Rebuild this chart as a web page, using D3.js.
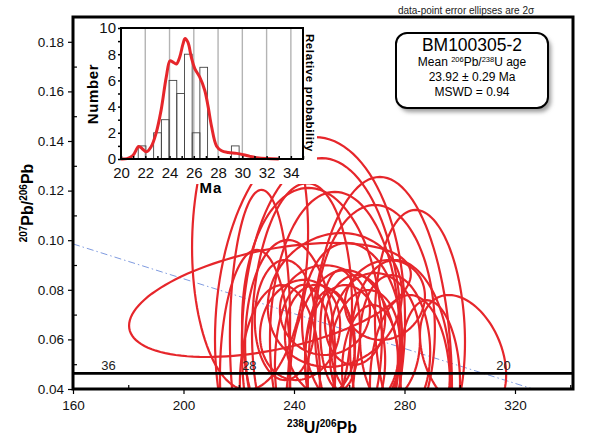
<!DOCTYPE html>
<html>
<head>
<meta charset="utf-8">
<script src="https://cdn.jsdelivr.net/npm/d3@7"></script>
<style>
body { margin: 0; background: #fff; }
svg { display: block; font-family: "Liberation Sans", Arial, sans-serif; }
</style>
</head>
<body>
<svg id="chart" width="602" height="440"></svg>
<script>
// error ellipses (238U/206Pb, 207Pb/206Pb, half widths, correlation)
var ellX = [231.3, 224.1, 271.1, 301.2, 245.8, 250.1, 246.5, 242.9, 254.8, 254.8, 261.0, 269.3, 242.2, 249.4, 258.5, 265.7, 276.6, 236.7, 262.1, 253.0, 238.6, 227.7, 269.3, 278.4, 282.0, 234.9, 258.5, 244.0, 267.5, 285.6, 251.2, 272.9, 225.9, 256.7, 289.2];
var ellY = [0.0759, 0.1001, 0.0396, 0.0537, 0.0638, 0.0577, 0.0638, 0.0678, 0.0598, 0.0759, 0.0638, 0.0598, 0.0638, 0.0598, 0.0517, 0.0557, 0.0577, 0.0678, 0.0678, 0.0517, 0.0557, 0.0638, 0.0638, 0.0517, 0.0416, 0.0436, 0.0436, 0.0477, 0.0497, 0.0638, 0.0718, 0.0759, 0.0477, 0.0638, 0.0456];
var ellSX = [51.0, 21.0, 26.1, 15.6, 34.4, 29.0, 25.3, 18.1, 23.5, 24.3, 18.1, 16.3, 14.5, 12.7, 14.5, 12.7, 12.7, 10.9, 10.9, 9.0, 16.3, 10.9, 21.7, 18.1, 14.5, 14.5, 19.9, 10.9, 10.1, 16.3, 16.3, 14.5, 12.7, 7.2, 10.9];
var ellSY = [0.0230, 0.0605, 0.0859, 0.0242, 0.0778, 0.0754, 0.0573, 0.0552, 0.0597, 0.0270, 0.0351, 0.0270, 0.0202, 0.0222, 0.0302, 0.0242, 0.0282, 0.0242, 0.0181, 0.0282, 0.0444, 0.0565, 0.0504, 0.0403, 0.0363, 0.0383, 0.0444, 0.0343, 0.0242, 0.0484, 0.0181, 0.0161, 0.0484, 0.0242, 0.0302];
var ellRho = [0.45, 0.05, 0, -0.33, 0.05, 0, -0.05, 0.1, 0, 0.1, -0.1, 0, 0.1, -0.1, 0, 0.1, -0.1, 0, 0.05, 0, -0.05, 0.05, 0, -0.1, 0, 0.05, 0, -0.05, 0.1, -0.1, 0, 0.1, 0.05, 0, -0.1];

// concordia (flat at this scale) and labelled ages
var concX = [160, 179, 230, 322, 341];
var concY = [0.0463, 0.0463, 0.0463, 0.0463, 0.0463];
var ageLabels = ["36", "28", "20"];
var ageX = [179, 230, 322];

// regression line
var discX = [160, 341];
var discY = [0.0985, 0.0349];

var xTicks = [160, 200, 240, 280, 320];
var xMinor = [180, 220, 260, 300, 340];
var yTicks = [0.04, 0.06, 0.08, 0.10, 0.12, 0.14, 0.16, 0.18];
var yMinor = [0.05, 0.07, 0.09, 0.11, 0.13, 0.15, 0.17];

// inset histogram of ages (Ma)
var binLeft = [21.42, 22.69, 23.33, 23.96, 24.60, 25.23, 25.87, 26.50, 29.10];
var binCount = [1, 2, 3, 6, 5, 8, 2, 7, 1];
var binWidth = 0.635;
var pdfAge = [20.0, 20.5, 20.97, 21.43, 21.6, 22.1, 22.49, 22.9, 23.31, 23.73, 24.04, 24.28, 24.56, 24.83, 25.1, 25.28, 25.52, 25.8, 26.08, 26.49, 26.9, 27.18, 27.46, 27.87, 28.29, 28.84, 29.53, 30.08, 30.64, 31.19, 32.0, 33.0];
var pdfVal = [0, 0.03, 0.25, 0.94, 0.9, 0.56, 0.95, 2.0, 3.75, 6.25, 7.5, 7.4, 7.25, 7.75, 8.75, 9.2, 8.9, 7.75, 6.9, 6.25, 5.25, 4.0, 2.5, 1.0, 0.63, 0.5, 0.43, 0.33, 0.2, 0.1, 0.03, 0];
var hxTicks = [20, 22, 24, 26, 28, 30, 32, 34];
var hyTicks = [0, 2, 4, 6, 8, 10];

var svg = d3.select("#chart");
var red = "#e6262b";

var x = d3.scaleLinear().domain([160, 341]).range([73, 573]);
var y = d3.scaleLinear().domain([0.04, 0.19]).range([389, 17]);

svg.append("defs").append("clipPath").attr("id", "plotclip")
    .append("rect").attr("x", 73).attr("y", 17).attr("width", 500).attr("height", 372);
var blur = svg.select("defs").append("filter").attr("id", "shadow")
    .attr("x", "-20%").attr("y", "-20%").attr("width", "140%").attr("height", "140%");
blur.append("feGaussianBlur").attr("stdDeviation", 2);

var plot = svg.append("g").attr("clip-path", "url(#plotclip)");

// regression line
plot.append("path")
    .datum(d3.range(discX.length))
    .attr("d", d3.line().x(function (i) { return x(discX[i]); }).y(function (i) { return y(discY[i]); }))
    .attr("fill", "none")
    .attr("stroke", "#7f9be0")
    .attr("stroke-width", 1)
    .attr("stroke-dasharray", "7,3,1.5,3");

// ellipses
var ellLine = d3.line()
    .x(function (p) { return x(p[0]); })
    .y(function (p) { return y(p[1]); })
    .curve(d3.curveLinearClosed);
plot.selectAll("path.ell")
    .data(d3.range(ellX.length))
    .enter().append("path")
    .attr("class", "ell")
    .attr("d", function (i) {
        var pts = d3.range(0, 120).map(function (k) {
            var t = k / 120 * 2 * Math.PI;
            var r = ellRho[i];
            return [ellX[i] + ellSX[i] * Math.cos(t),
                ellY[i] + ellSY[i] * (r * Math.cos(t) + Math.sqrt(1 - r * r) * Math.sin(t))];
        });
        return ellLine(pts);
    })
    .attr("fill", "none")
    .attr("stroke", red)
    .attr("stroke-width", 2.2);

// concordia
plot.append("path")
    .datum(d3.range(concX.length))
    .attr("d", d3.line().x(function (i) { return x(concX[i]); }).y(function (i) { return y(concY[i]); }))
    .attr("fill", "none")
    .attr("stroke", "#000")
    .attr("stroke-width", 2.6);
plot.selectAll("text.age")
    .data(ageLabels)
    .enter().append("text")
    .attr("class", "age")
    .attr("x", function (d, i) { return x(ageX[i]) - 17; })
    .attr("y", y(concY[0]) - 3)
    .attr("text-anchor", "middle")
    .attr("font-size", 13)
    .attr("fill", "#222")
    .text(function (d) { return d; });

// axes
var gy = svg.append("g").attr("transform", "translate(73,0)")
    .call(d3.axisLeft(y).tickValues(yTicks).tickFormat(d3.format(".2f")).tickSize(5).tickPadding(4));
var gyMinor = svg.append("g").attr("transform", "translate(73,0)")
    .call(d3.axisLeft(y).tickValues(yMinor).tickFormat("").tickSize(-4));
var gx = svg.append("g").attr("transform", "translate(0,389)")
    .call(d3.axisBottom(x).tickValues(xTicks).tickFormat(d3.format("d")).tickSize(5).tickPadding(6));
var gxMinor = svg.append("g").attr("transform", "translate(0,389)")
    .call(d3.axisBottom(x).tickValues(xMinor).tickFormat("").tickSize(-4));
[gy, gyMinor, gx, gxMinor].forEach(function (g) {
    g.select(".domain").remove();
    g.selectAll("line").attr("stroke", "#000").attr("stroke-width", 1.2);
    g.selectAll("text").attr("font-size", 13.5).attr("font-family", "Liberation Sans, Arial, sans-serif").attr("fill", "#111");
});

// frame
svg.append("rect")
    .attr("x", 73).attr("y", 17).attr("width", 500).attr("height", 372)
    .attr("fill", "none").attr("stroke", "#000").attr("stroke-width", 3);

// axis titles
var yt = svg.append("text")
    .attr("transform", "translate(33,203) rotate(-90)")
    .attr("text-anchor", "middle")
    .attr("font-weight", "bold")
    .attr("font-size", 16);
yt.append("tspan").attr("font-size", 10).attr("dy", -6).text("207");
yt.append("tspan").attr("dy", 6).text("Pb/");
yt.append("tspan").attr("font-size", 10).attr("dy", -6).text("206");
yt.append("tspan").attr("dy", 6).text("Pb");

var xt = svg.append("text")
    .attr("x", 322).attr("y", 433)
    .attr("text-anchor", "middle")
    .attr("font-weight", "bold")
    .attr("font-size", 16);
xt.append("tspan").attr("font-size", 10).attr("dy", -6).text("238");
xt.append("tspan").attr("dy", 6).text("U/");
xt.append("tspan").attr("font-size", 10).attr("dy", -6).text("206");
xt.append("tspan").attr("dy", 6).text("Pb");

svg.append("text")
    .attr("x", 466).attr("y", 14)
    .attr("text-anchor", "middle")
    .attr("font-size", 10)
    .attr("fill", "#222")
    .text("data-point error ellipses are 2\u03c3");

// scale bar
svg.append("rect")
    .attr("x", x(164.6)).attr("y", y(0.1856))
    .attr("width", 4.5).attr("height", y(0.1779) - y(0.1856))
    .attr("fill", "#111");

// result box
svg.append("rect")
    .attr("x", 399).attr("y", 37).attr("width", 152).attr("height", 75).attr("rx", 11)
    .attr("fill", "#9a9a9a").attr("filter", "url(#shadow)");
svg.append("rect")
    .attr("x", 396).attr("y", 33).attr("width", 152).attr("height", 75).attr("rx", 11)
    .attr("fill", "#fff").attr("stroke", "#000").attr("stroke-width", 2);
svg.append("text").attr("x", 472).attr("y", 51).attr("text-anchor", "middle")
    .attr("font-size", 17.5).text("BM100305-2");
var mt = svg.append("text").attr("x", 472).attr("y", 66).attr("text-anchor", "middle")
    .attr("font-size", 12);
mt.append("tspan").text("Mean ");
mt.append("tspan").attr("font-size", 7.5).attr("dy", -4).text("206");
mt.append("tspan").attr("dy", 4).text("Pb/");
mt.append("tspan").attr("font-size", 7.5).attr("dy", -4).text("238");
mt.append("tspan").attr("dy", 4).text("U age");
svg.append("text").attr("x", 472).attr("y", 81).attr("text-anchor", "middle")
    .attr("font-size", 12).text("23.92 \u00b1 0.29 Ma");
svg.append("text").attr("x", 472).attr("y", 96).attr("text-anchor", "middle")
    .attr("font-size", 12).text("MSWD = 0.94");

// ---- inset histogram ----
var hx = d3.scaleLinear().domain([20, 35]).range([121, 303]);
var hy = d3.scaleLinear().domain([0, 10]).range([159, 28]);
var inset = svg.append("g");
inset.append("rect").attr("x", 84).attr("y", 19).attr("width", 233).attr("height", 165).attr("fill", "#fff");

inset.selectAll("line.grid")
    .data(hxTicks.slice(1))
    .enter().append("line")
    .attr("class", "grid")
    .attr("x1", function (d) { return hx(d); }).attr("x2", function (d) { return hx(d); })
    .attr("y1", hy(0)).attr("y2", hy(10))
    .attr("stroke", "#b4b4b4").attr("stroke-width", 1.4);

inset.selectAll("rect.bar")
    .data(d3.range(binLeft.length))
    .enter().append("rect")
    .attr("class", "bar")
    .attr("x", function (i) { return hx(binLeft[i]); })
    .attr("width", function (i) { return hx(binLeft[i] + binWidth) - hx(binLeft[i]); })
    .attr("y", function (i) { return hy(binCount[i]); })
    .attr("height", function (i) { return hy(0) - hy(binCount[i]); })
    .attr("fill", "none").attr("stroke", "#444").attr("stroke-width", 0.9);

inset.append("path")
    .datum(d3.range(pdfAge.length))
    .attr("d", d3.line().x(function (i) { return hx(pdfAge[i]); }).y(function (i) { return hy(pdfVal[i]); }).curve(d3.curveCatmullRom))
    .attr("fill", "none").attr("stroke", red).attr("stroke-width", 3);

var hgx = inset.append("g").attr("transform", "translate(0,159)")
    .call(d3.axisBottom(hx).tickValues(hxTicks).tickSize(0).tickPadding(8).tickFormat(d3.format("d")));
var hgxMinor = inset.append("g").attr("transform", "translate(0,159)")
    .call(d3.axisBottom(hx).ticks(15).tickSize(-3).tickFormat(""));
var hgy = inset.append("g").attr("transform", "translate(121,0)")
    .call(d3.axisLeft(hy).tickValues(hyTicks).tickSize(0).tickPadding(5).tickFormat(d3.format("d")));
var hgyMinor = inset.append("g").attr("transform", "translate(121,0)")
    .call(d3.axisLeft(hy).ticks(10).tickSize(3).tickFormat(""));
[hgx, hgxMinor, hgy, hgyMinor].forEach(function (g) {
    g.select(".domain").remove();
    g.selectAll("line").attr("stroke", "#000").attr("stroke-width", 1.5);
    g.selectAll("text").attr("font-size", 15).attr("font-family", "Liberation Sans, Arial, sans-serif").attr("fill", "#111");
});

inset.append("rect")
    .attr("x", 121).attr("y", 28).attr("width", 182).attr("height", 131)
    .attr("fill", "none").attr("stroke", "#000").attr("stroke-width", 2);

inset.append("text")
    .attr("transform", "translate(98,94) rotate(-90)")
    .attr("text-anchor", "middle")
    .attr("font-weight", "bold").attr("font-size", 15)
    .attr("letter-spacing", 0.6)
    .text("Number");
inset.append("text")
    .attr("x", 211).attr("y", 193)
    .attr("text-anchor", "middle")
    .attr("font-weight", "bold").attr("font-size", 15)
    .attr("letter-spacing", 1)
    .text("Ma");
inset.append("text")
    .attr("transform", "translate(306,93) rotate(90)")
    .attr("text-anchor", "middle")
    .attr("font-weight", "bold").attr("font-size", 11.5)
    .attr("letter-spacing", 0.6)
    .text("Relative probability");
</script>
</body>
</html>
